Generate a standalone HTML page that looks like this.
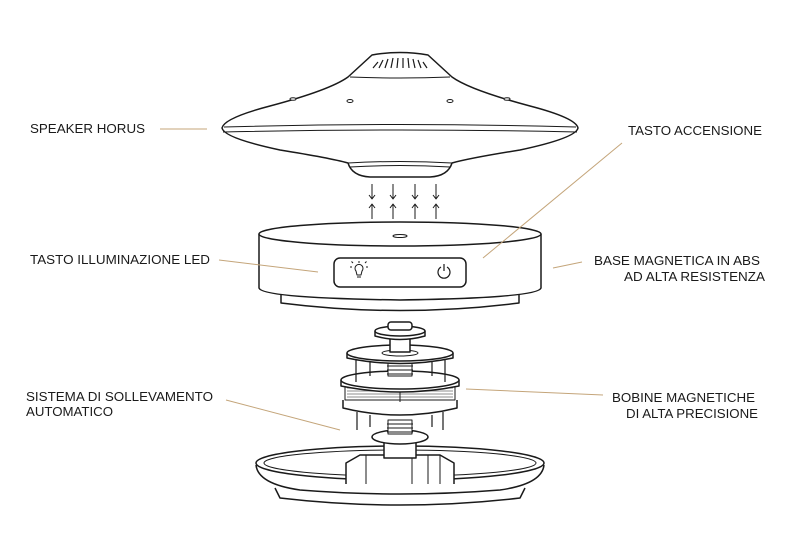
<!DOCTYPE html>
<html><head><meta charset="utf-8"><style>
html,body{margin:0;padding:0;background:#fff;}
svg{display:block;}
text{font-family:"Liberation Sans",sans-serif;font-size:13px;fill:#1a1a1a;}
</style></head><body>
<svg width="800" height="559" viewBox="0 0 800 559" xmlns="http://www.w3.org/2000/svg">
<g fill="#fff" stroke="#1a1a1a" stroke-width="1.5" stroke-linejoin="round">
<!-- saucer -->
<path d="M372,55 Q400,50 428,55 Q440,66 452,77 Q470,90 530,106 Q576,118 578,128 Q576,138 520,150 Q470,158 452,163 Q448,176 430,177 L370,177 Q352,176 348,163 Q330,158 280,150 Q224,138 222,128 Q224,118 270,106 Q330,90 348,77 Q360,66 372,55 Z"/>
<path d="M350,77 Q400,79 450,77" stroke-width="1"/>
<path d="M224,127 Q400,122 576,127" stroke-width="1"/>
<path d="M223,132 Q400,128 577,132" stroke-width="1"/>
<path d="M348,163 Q400,160 452,163" stroke-width="1"/>
<path d="M350,167 Q400,164 450,167" stroke-width="1"/>
<g stroke-width="1.2">
<path d="M383,60 l-4,8 M388,59 l-3,9 M393,58 l-2,10 M398,58 l-1,10 M403,58 l0,10 M408,58 l1,10 M413,59 l2,9 M418,60 l3,8 M378,62 l-5,6 M423,62 l4,6"/>
</g>
<ellipse cx="350" cy="101" rx="3" ry="1.5" stroke-width="1"/>
<ellipse cx="450" cy="101" rx="3" ry="1.5" stroke-width="1"/>
<ellipse cx="293" cy="99" rx="3" ry="1.3" stroke-width="1"/>
<ellipse cx="507" cy="99" rx="3" ry="1.3" stroke-width="1"/>
<!-- arrows -->
<g stroke-width="1" fill="none">
<path d="M372,184 v15 m-3,-4 l3,4 l3,-4 M393,184 v15 m-3,-4 l3,4 l3,-4 M415,184 v15 m-3,-4 l3,4 l3,-4 M436,184 v15 m-3,-4 l3,4 l3,-4"/>
<path d="M372,219 v-15 m-3,4 l3,-4 l3,4 M393,219 v-15 m-3,4 l3,-4 l3,4 M415,219 v-15 m-3,4 l3,-4 l3,4 M436,219 v-15 m-3,4 l3,-4 l3,4"/>
</g>
<!-- base -->
<path d="M281,293 L281,303 Q400,318 519,303 L519,293"/>
<path d="M259,234 L259,288 Q262,298 400,300 Q538,298 541,288 L541,234"/>
<ellipse cx="400" cy="234" rx="141" ry="12"/>
<ellipse cx="400" cy="236" rx="7" ry="1.5" stroke-width="1"/>
<rect x="334" y="258" width="132" height="29" rx="6"/>
<path d="M356,271 a4,4 0 1 1 6,0 l-1,4 h-4 z M357,277 h4 M359,263 v-2 M352,267 h-2 M368,267 h-2 M353,263 l-1.5,-1.5 M365,263 l1.5,-1.5" stroke-width="1"/>
<path d="M441,267 a6,6 0 1 0 6,0 M444,264 v7" stroke-width="1.2"/>
<!-- dish -->
<path d="M275,488 L280,498 Q400,512 520,498 L525,488"/>
<path d="M256,465 Q258,484 300,490 Q400,498 500,490 Q542,484 544,465"/>
<ellipse cx="400" cy="463" rx="144" ry="17"/>
<ellipse cx="400" cy="463" rx="136" ry="13" stroke-width="1"/>
<path d="M346,484 L346,463 L360,455 L440,455 L454,463 L454,484" />
<path d="M366,455 L366,484 M412,455 L412,484 M428,455 L428,484 M440,455 L440,484" stroke-width="1"/>
<!-- assembly -->
<rect x="384" y="440" width="32" height="18"/>
<ellipse cx="400" cy="437" rx="28" ry="7"/>
<path d="M388,420 h24 v14 h-24 z" stroke-width="1"/>
<path d="M387,424 h26 M387,428 h26 M387,432 h26" stroke-width="1"/>
<path d="M357,412 v18 M370,415 v12 M432,415 v12 M443,412 v18" stroke-width="1.2"/>
<path d="M343,400 L343,408 Q400,422 457,408 L457,400"/>
<path d="M345,386 h110 v14 h-110 z" stroke-width="1"/>
<path d="M347,388 h106 M347,391 h106 M347,394 h106 M347,397 h106" stroke-width="0.6"/>
<line x1="400" y1="386" x2="400" y2="402" stroke-width="1"/>
<path d="M341,380 L341,386 Q400,398 459,386 L459,380"/>
<ellipse cx="400" cy="380" rx="59" ry="9"/>
<path d="M356,360 v22 M370,362 v14 M432,362 v14 M445,360 v22" stroke-width="1.2"/>
<path d="M388,362 h24 v14 h-24 z" stroke-width="1"/>
<path d="M387,366 h26 M387,370 h26 M387,374 h26" stroke-width="1"/>
<path d="M347,353 L347,358 Q400,369 453,358 L453,353"/>
<ellipse cx="400" cy="353" rx="53" ry="8"/>
<ellipse cx="400" cy="353" rx="18" ry="3" stroke-width="1"/>
<rect x="390" y="334" width="20" height="18"/>
<path d="M375,331 L375,336 Q400,343 425,336 L425,331"/>
<ellipse cx="400" cy="331" rx="25" ry="5"/>
<rect x="388" y="322" width="24" height="8" rx="3"/>
</g>
<g fill="none" stroke="#c4a57a" stroke-width="1">
<line x1="160" y1="129" x2="207" y2="129"/>
<line x1="622" y1="143" x2="483" y2="258"/>
<line x1="219" y1="260" x2="318" y2="272"/>
<line x1="553" y1="268" x2="582" y2="262"/>
<line x1="226" y1="400" x2="340" y2="430"/>
<line x1="466" y1="389" x2="603" y2="395"/>
</g>
<text x="30" y="133" textLength="115" lengthAdjust="spacingAndGlyphs">SPEAKER HORUS</text>
<text x="628" y="135" textLength="134" lengthAdjust="spacingAndGlyphs">TASTO ACCENSIONE</text>
<text x="30" y="264" textLength="180" lengthAdjust="spacingAndGlyphs">TASTO ILLUMINAZIONE LED</text>
<text x="594" y="265" textLength="166" lengthAdjust="spacingAndGlyphs">BASE MAGNETICA IN ABS</text>
<text x="624" y="281" textLength="141" lengthAdjust="spacingAndGlyphs">AD ALTA RESISTENZA</text>
<text x="26" y="401" textLength="187" lengthAdjust="spacingAndGlyphs">SISTEMA DI SOLLEVAMENTO</text>
<text x="26" y="416" textLength="87" lengthAdjust="spacingAndGlyphs">AUTOMATICO</text>
<text x="612" y="402" textLength="143" lengthAdjust="spacingAndGlyphs">BOBINE MAGNETICHE</text>
<text x="626" y="418" textLength="132" lengthAdjust="spacingAndGlyphs">DI ALTA PRECISIONE</text>
</svg>
</body></html>
